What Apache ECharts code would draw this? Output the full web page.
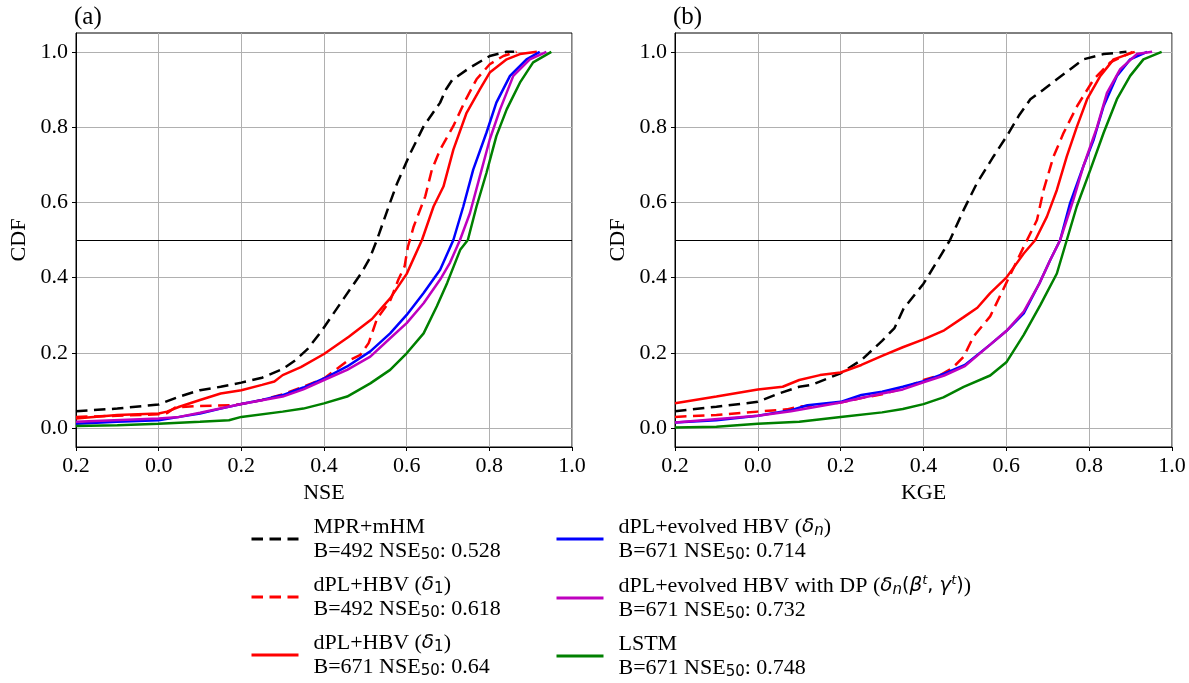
<!DOCTYPE html>
<html>
<head>
<meta charset="utf-8">
<script src="https://cdn.jsdelivr.net/npm/echarts@6/dist/echarts.min.js"></script>
<style>
  html, body { margin: 0; padding: 0; background: #fff; }
  #chart { width: 1189px; height: 683px; }
</style>
</head>
<body>
<div id="chart"></div>
<script>
// ---------- data ----------
const xTickLabels = ['0.2', '0.0', '0.2', '0.4', '0.6', '0.8', '1.0'];
const yTickValues = [0, 0.2, 0.4, 0.6, 0.8, 1.0];
const panelTitles = ['(a)', '(b)'];
const xAxisNames = ['NSE', 'KGE'];

const seriesNames = ['MPR+mHM', 'dPL+HBV B492', 'dPL+HBV B671', 'dPL+evolved HBV', 'dPL+evolved HBV DP', 'LSTM'];

// Panel (a): NSE CDFs  [x, cdf]
const nseMPR = [[-0.2,0.045],[-0.1,0.052],[0.0,0.063],[0.05,0.084],[0.1,0.101],[0.15,0.11],[0.2,0.121],[0.25,0.134],[0.3,0.157],[0.33,0.18],[0.36,0.21],[0.392,0.255],[0.42,0.30],[0.448,0.345],[0.47,0.38],[0.492,0.415],[0.51,0.45],[0.528,0.5],[0.545,0.553],[0.56,0.60],[0.577,0.651],[0.609,0.731],[0.641,0.802],[0.665,0.84],[0.681,0.865],[0.695,0.9],[0.71,0.925],[0.753,0.958],[0.801,0.989],[0.842,1.0],[0.86,1.0]];
const nseHBV492 = [[-0.2,0.03],[-0.1,0.033],[0.0,0.037],[0.02,0.04],[0.04,0.055],[0.1,0.059],[0.18,0.061],[0.2,0.064],[0.25,0.075],[0.3,0.09],[0.35,0.11],[0.4,0.132],[0.456,0.178],[0.488,0.195],[0.508,0.226],[0.528,0.29],[0.561,0.341],[0.58,0.395],[0.595,0.43],[0.603,0.482],[0.617,0.536],[0.645,0.616],[0.661,0.687],[0.681,0.74],[0.713,0.803],[0.741,0.869],[0.769,0.927],[0.801,0.967],[0.834,0.989],[0.866,1.0]];
const nseHBV671 = [[-0.2,0.026],[-0.1,0.035],[0.0,0.039],[0.02,0.044],[0.05,0.057],[0.1,0.075],[0.15,0.092],[0.2,0.101],[0.25,0.115],[0.28,0.124],[0.3,0.141],[0.344,0.162],[0.4,0.197],[0.46,0.243],[0.516,0.29],[0.56,0.345],[0.6,0.41],[0.637,0.5],[0.665,0.589],[0.689,0.642],[0.713,0.74],[0.745,0.838],[0.777,0.9],[0.801,0.945],[0.842,0.98],[0.874,0.994],[0.915,1.0]];
const nseEvolved = [[-0.2,0.012],[-0.1,0.017],[0.0,0.021],[0.05,0.03],[0.1,0.039],[0.15,0.052],[0.2,0.064],[0.25,0.075],[0.3,0.088],[0.35,0.108],[0.4,0.132],[0.456,0.164],[0.512,0.204],[0.56,0.252],[0.6,0.301],[0.641,0.359],[0.681,0.421],[0.713,0.5],[0.737,0.589],[0.761,0.687],[0.793,0.785],[0.817,0.865],[0.85,0.936],[0.89,0.98],[0.922,1.0]];
const nseEvolvedDP = [[-0.2,0.017],[0.0,0.026],[0.05,0.03],[0.1,0.041],[0.2,0.064],[0.3,0.084],[0.35,0.103],[0.4,0.128],[0.456,0.155],[0.512,0.19],[0.56,0.239],[0.6,0.279],[0.641,0.332],[0.681,0.395],[0.705,0.44],[0.729,0.5],[0.753,0.571],[0.777,0.669],[0.801,0.767],[0.826,0.847],[0.858,0.936],[0.898,0.98],[0.938,1.0]];
const nseLSTM = [[-0.2,0.006],[-0.1,0.008],[0.0,0.012],[0.1,0.017],[0.17,0.021],[0.2,0.03],[0.3,0.044],[0.35,0.052],[0.4,0.066],[0.456,0.084],[0.512,0.119],[0.56,0.155],[0.6,0.199],[0.641,0.252],[0.673,0.324],[0.698,0.386],[0.73,0.475],[0.748,0.5],[0.769,0.589],[0.793,0.678],[0.817,0.776],[0.842,0.847],[0.874,0.918],[0.906,0.972],[0.95,1.0]];

// Panel (b): KGE CDFs  [x, cdf]
const kgeMPR = [[-0.2,0.045],[-0.1,0.057],[0.0,0.07],[0.05,0.092],[0.1,0.11],[0.13,0.115],[0.2,0.146],[0.25,0.181],[0.3,0.232],[0.33,0.266],[0.352,0.318],[0.4,0.384],[0.44,0.456],[0.464,0.5],[0.497,0.58],[0.529,0.651],[0.569,0.722],[0.601,0.776],[0.63,0.83],[0.658,0.874],[0.69,0.9],[0.722,0.927],[0.786,0.98],[0.835,0.994],[0.89,1.0]];
const kgeHBV492 = [[-0.2,0.03],[-0.1,0.035],[0.0,0.044],[0.07,0.05],[0.1,0.057],[0.2,0.068],[0.25,0.08],[0.3,0.09],[0.35,0.105],[0.4,0.128],[0.44,0.141],[0.47,0.16],[0.497,0.19],[0.521,0.244],[0.561,0.297],[0.6,0.386],[0.642,0.482],[0.674,0.553],[0.69,0.633],[0.714,0.722],[0.738,0.784],[0.771,0.856],[0.811,0.927],[0.851,0.972],[0.905,1.0]];
const kgeHBV671 = [[-0.2,0.066],[-0.1,0.084],[0.0,0.103],[0.06,0.11],[0.1,0.128],[0.15,0.141],[0.2,0.148],[0.25,0.168],[0.3,0.192],[0.35,0.215],[0.4,0.236],[0.45,0.26],[0.497,0.295],[0.53,0.32],[0.561,0.359],[0.6,0.4],[0.642,0.464],[0.67,0.5],[0.698,0.562],[0.722,0.633],[0.746,0.722],[0.77,0.8],[0.795,0.874],[0.827,0.936],[0.859,0.98],[0.91,1.0]];
const kgeEvolved = [[-0.2,0.015],[-0.1,0.021],[0.0,0.033],[0.08,0.048],[0.12,0.061],[0.2,0.07],[0.25,0.088],[0.3,0.097],[0.35,0.11],[0.4,0.125],[0.45,0.145],[0.5,0.168],[0.561,0.222],[0.6,0.258],[0.642,0.305],[0.68,0.385],[0.706,0.447],[0.73,0.5],[0.754,0.598],[0.786,0.696],[0.811,0.767],[0.835,0.856],[0.867,0.936],[0.899,0.98],[0.94,1.0]];
const kgeEvolvedDP = [[-0.2,0.015],[0.0,0.033],[0.08,0.045],[0.2,0.068],[0.3,0.092],[0.35,0.103],[0.4,0.122],[0.45,0.14],[0.5,0.165],[0.561,0.222],[0.6,0.258],[0.642,0.31],[0.68,0.385],[0.706,0.447],[0.73,0.5],[0.762,0.607],[0.786,0.696],[0.819,0.8],[0.843,0.891],[0.875,0.954],[0.915,0.994],[0.952,1.0]];
const kgeLSTM = [[-0.2,0.002],[-0.1,0.004],[0.0,0.012],[0.1,0.017],[0.2,0.03],[0.3,0.042],[0.35,0.051],[0.4,0.064],[0.448,0.082],[0.497,0.11],[0.561,0.14],[0.6,0.175],[0.642,0.248],[0.682,0.327],[0.722,0.411],[0.746,0.5],[0.77,0.589],[0.803,0.687],[0.835,0.785],[0.867,0.874],[0.899,0.936],[0.931,0.98],[0.975,1.0]];

const panelData = [
  [nseMPR, nseHBV492, nseHBV671, nseEvolved, nseEvolvedDP, nseLSTM],
  [kgeMPR, kgeHBV492, kgeHBV671, kgeEvolved, kgeEvolvedDP, kgeLSTM]
];

// ---------- styling ----------
const colors = ['#000000', '#ff0000', '#ff0000', '#0000ff', '#bf00bf', '#008000'];
const dashed = [true, true, false, false, false, false];
const SERIF = 'Liberation Serif, Times New Roman, serif';
const SANS = 'DejaVu Sans, sans-serif';
const FS = 22;

const legendText = {
  'MPR+mHM': '{r|MPR+mHM}\n{r|B=492 NSE}{s|50}{r|: 0.528}',
  'dPL+HBV B492': '{r|dPL+HBV (}{m|δ}{s|1}{r|)}\n{r|B=492 NSE}{s|50}{r|: 0.618}',
  'dPL+HBV B671': '{r|dPL+HBV (}{m|δ}{s|1}{r|)}\n{r|B=671 NSE}{s|50}{r|: 0.64}',
  'dPL+evolved HBV': '{r|dPL+evolved HBV (}{m|δ}{si|n}{r|)}\n{r|B=671 NSE}{s|50}{r|: 0.714}',
  'dPL+evolved HBV DP': '{r|dPL+evolved HBV with DP (}{m|δ}{si|n}{n|(}{m|β}{p|t}{n|, }{m|γ}{p|t}{n|)}{r|)}\n{r|B=671 NSE}{s|50}{r|: 0.732}',
  'LSTM': '{r|LSTM}\n{r|B=671 NSE}{s|50}{r|: 0.748}'
};

const grids = [
  { left: 76, top: 33, width: 496, height: 414 },
  { left: 675, top: 33, width: 497, height: 414 }
];

const xAxes = [], yAxes = [], series = [], titles = [];
grids.forEach((g, gi) => {
  g.show = true; g.borderColor = '#000'; g.borderWidth = 1; g.containLabel = false;
  titles.push({ text: panelTitles[gi], left: g.left - 2, top: 5, padding: 0,
    textStyle: { fontFamily: SERIF, fontSize: 25, fontWeight: 'normal', color: '#000' } });
  xAxes.push({
    type: 'value', gridIndex: gi, min: -0.2, max: 1.0, interval: 0.2,
    name: xAxisNames[gi], nameLocation: 'middle', nameGap: 33,
    nameTextStyle: { fontFamily: SERIF, fontSize: FS, color: '#000' },
    axisLine: { show: true, onZero: false, lineStyle: { color: '#000', width: 1 } },
    axisTick: { show: true, length: 4, lineStyle: { color: '#000' } },
    axisLabel: { fontFamily: SERIF, fontSize: FS, color: '#000', margin: 8,
      formatter: v => xTickLabels[Math.round((v + 0.2) / 0.2)] },
    splitLine: { show: true, lineStyle: { color: '#b0b0b0', width: 1 } }
  });
  yAxes.push({
    type: 'value', gridIndex: gi, min: -0.05, max: 1.05,
    name: 'CDF', nameLocation: 'middle', nameGap: 46, nameRotate: 90,
    nameTextStyle: { fontFamily: SERIF, fontSize: FS, color: '#000' },
    axisLine: { show: true, onZero: false, lineStyle: { color: '#000', width: 1 } },
    axisTick: { show: true, length: 4, customValues: yTickValues, lineStyle: { color: '#000' } },
    axisLabel: { fontFamily: SERIF, fontSize: FS, color: '#000', margin: 8,
      customValues: yTickValues, formatter: v => v.toFixed(1) },
    splitLine: { show: true, lineStyle: { color: '#b0b0b0', width: 1 } }
  });
  panelData[gi].forEach((d, si) => {
    const s = {
      name: seriesNames[si], type: 'line', xAxisIndex: gi, yAxisIndex: gi,
      data: d, symbol: 'none', showSymbol: false, smooth: false,
      lineStyle: { color: colors[si], width: 2.5, type: dashed[si] ? [11.5, 6.5] : 'solid' },
      itemStyle: { color: colors[si] },
      z: 3 + si
    };
    if (si === 0) {
      s.markLine = { silent: true, symbol: 'none', label: { show: false },
        lineStyle: { color: '#000', width: 1.2, type: 'solid' },
        data: [{ yAxis: 0.5 }], z: 2 };
    }
    series.push(s);
  });
});

const rich = {
  r: { fontFamily: SERIF, fontSize: FS, lineHeight: 24, color: '#000' },
  n: { fontFamily: SANS, fontSize: 19, lineHeight: 24, color: '#000' },
  m: { fontFamily: SANS, fontStyle: 'italic', fontSize: 20, lineHeight: 24, color: '#000' },
  s: { fontFamily: SANS, fontSize: 15, lineHeight: 12, verticalAlign: 'bottom', color: '#000' },
  si: { fontFamily: SANS, fontStyle: 'italic', fontSize: 15, lineHeight: 12, verticalAlign: 'bottom', color: '#000' },
  p: { fontFamily: SANS, fontStyle: 'italic', fontSize: 13, lineHeight: 16, verticalAlign: 'top', color: '#000' }
};

function makeLegend(names, left) {
  return {
    data: names, orient: 'vertical', left: left, top: 516, padding: 0,
    itemWidth: 47, itemHeight: 14, itemGap: 11, selectedMode: false,
    lineStyle: { width: 3 },
    itemStyle: { color: 'rgba(0,0,0,0)', borderWidth: 0, opacity: 0 },
    formatter: n => legendText[n],
    textStyle: { padding: [0, 0, 0, 10], rich: rich, fontFamily: SERIF, fontSize: FS, color: '#000' }
  };
}

const option = {
  animation: false,
  backgroundColor: '#fff',
  title: titles,
  grid: grids,
  xAxis: xAxes,
  yAxis: yAxes,
  legend: [
    makeLegend(seriesNames.slice(0, 3), 250),
    makeLegend(seriesNames.slice(3), 555)
  ],
  series: series
};

const chart = echarts.init(document.getElementById('chart'), null, { renderer: 'canvas' });
chart.setOption(option);
</script>
</body>
</html>
